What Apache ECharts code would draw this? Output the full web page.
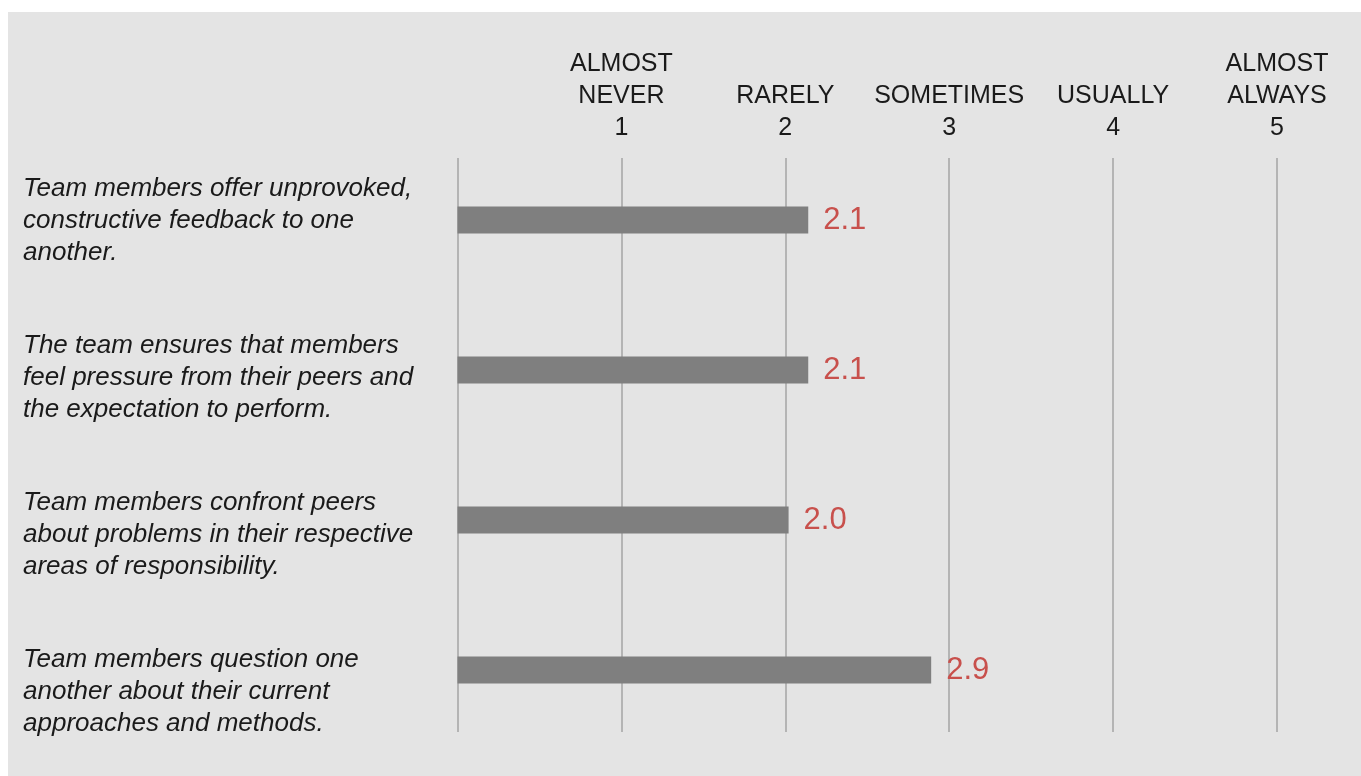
<!DOCTYPE html>
<html>
<head>
<meta charset="utf-8">
<script src="https://cdn.jsdelivr.net/npm/echarts@6/dist/echarts.min.js"></script>
<style>
html,body{margin:0;padding:0;background:#ffffff;}
#chart{position:absolute;left:8px;top:12px;width:1353px;height:764px;}
</style>
</head>
<body>
<div id="chart"></div>
<script>
const categories = [
  "Team members offer unprovoked,\nconstructive feedback to one\nanother.",
  "The team ensures that members\nfeel pressure from their peers and\nthe expectation to perform.",
  "Team members confront peers\nabout problems in their respective\nareas of responsibility.",
  "Team members question one\nanother about their current\napproaches and methods."
];
const values = [2.14, 2.14, 2.02, 2.89];
const valueLabels = ["2.1", "2.1", "2.0", "2.9"];
const tickLabels = ["", "ALMOST\nNEVER\n1", "RARELY\n2", "SOMETIMES\n3", "USUALLY\n4", "ALMOST\nALWAYS\n5"];

const font = "'Liberation Sans', Arial, Helvetica, sans-serif";
const chart = echarts.init(document.getElementById('chart'));
const gLeft = 449.5, gWidth = 819.5;
chart.setOption({
  backgroundColor: '#e4e4e4',
  animation: false,
  grid: [
    {left: gLeft, width: gWidth, top: 133, height: 600},
    {left: gLeft, width: gWidth, top: 146, height: 574},
    {left: gLeft, width: gWidth, top: 130.5, height: 628}
  ],
  xAxis: [
    {gridIndex: 0, type: 'value', min: 0, max: 5, interval: 1, show: false},
    {gridIndex: 1, type: 'value', min: 0, max: 5, interval: 1, position: 'top',
      axisLine: {show: false}, axisTick: {show: false},
      splitLine: {show: true, lineStyle: {color: '#b4b4b4', width: 2}},
      axisLabel: {
        show: true, margin: 14, fontFamily: font, fontSize: 25, color: '#1a1a1a',
        lineHeight: 32, align: 'center',
        formatter: function (v) { return tickLabels[Math.round(v)] || ''; }
      }
    },
    {gridIndex: 2, type: 'value', min: 0, max: 5, show: false}
  ],
  yAxis: [
    {gridIndex: 0, type: 'category', data: categories, inverse: true, show: false},
    {gridIndex: 1, type: 'value', min: 0, max: 1, show: false},
    {gridIndex: 2, type: 'category', data: categories, inverse: true,
      axisLine: {show: false}, axisTick: {show: false}, splitLine: {show: false},
      axisLabel: {
        show: true, align: 'left', margin: 434.5, fontFamily: font, fontSize: 26,
        fontStyle: 'italic', color: '#1a1a1a', lineHeight: 32
      }
    }
  ],
  series: [
    {
      type: 'bar', xAxisIndex: 0, yAxisIndex: 0, data: values, barWidth: 27,
      itemStyle: {color: '#7f7f7f'},
      label: {
        show: true, position: 'right', distance: 15, fontFamily: font, fontSize: 31,
        color: '#c8504c',
        formatter: function (p) { return valueLabels[p.dataIndex]; }
      }
    },
    {type: 'scatter', xAxisIndex: 1, yAxisIndex: 1, data: []},
    {type: 'scatter', xAxisIndex: 2, yAxisIndex: 2, data: []}
  ]
});
</script>
</body>
</html>
